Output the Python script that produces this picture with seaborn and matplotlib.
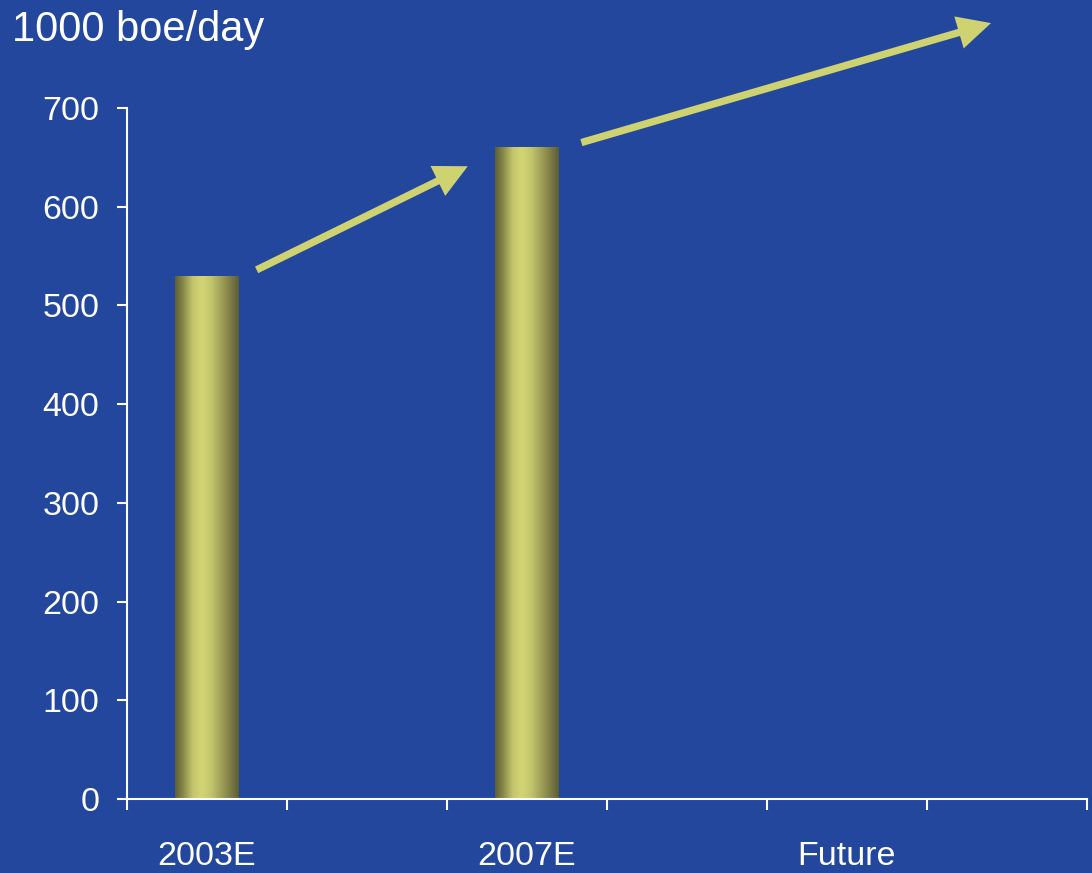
import matplotlib
matplotlib.use("Agg")
import matplotlib.pyplot as plt
from matplotlib.colors import LinearSegmentedColormap
import numpy as np
import pandas as pd
import seaborn as sns

# chart data
slots = ["2003E", " ", "2007E", "  ", "Future", "   "]
periods = ["2003E", "2007E"]
production = [530, 660]
unit_label = "1000 boe/day"
y_ticks = [0, 100, 200, 300, 400, 500, 600, 700]
# growth arrows (tail, head) in data units
arrow_paths = [((0.31, 536), (1.63, 641)),
               ((2.34, 665), (4.90, 786))]

BG = "#22479c"
ARROW = "#cfd270"

sns.set_theme(style="white")
plt.rcParams["font.family"] = ["Liberation Sans", "DejaVu Sans"]

df = pd.DataFrame({"period": periods, "value": production})

fig = plt.figure(figsize=(10.92, 8.73), dpi=100, facecolor=BG)
ax = fig.add_axes([127 / 1092, 1 - 799 / 873, 960 / 1092, 691 / 873])
ax.set_facecolor(BG)

sns.barplot(data=df, x="period", y="value", order=slots, width=0.4,
            color="#b0b25e", saturation=1, ax=ax)

# cylinder-like shading on each bar
shade = LinearSegmentedColormap.from_list("shade", [
    (0.0, "#5e5e36"), (0.12, "#858548"), (0.28, "#c4c66c"),
    (0.42, "#d3d574"), (0.56, "#c4c66c"), (0.78, "#939350"),
    (1.0, "#5c5c35")])
grad = np.linspace(0, 1, 256).reshape(1, -1)
for p in ax.patches:
    x0, y0 = p.get_x(), p.get_y()
    w, h = p.get_width(), p.get_height()
    if not np.isfinite(h) or h == 0:
        continue
    p.set_edgecolor("none")
    im = ax.imshow(grad, cmap=shade, aspect="auto", zorder=p.get_zorder() + 0.1,
                   extent=(x0, x0 + w, y0, y0 + h))
    im.set_clip_path(p)

ax.set_xlim(-0.5, len(slots) - 0.5)
ax.set_ylim(0, 700)
ax.set_yticks(y_ticks)
ax.set_xlabel("")
ax.set_ylabel("")

for side in ["top", "right"]:
    ax.spines[side].set_visible(False)
for side in ["left", "bottom"]:
    ax.spines[side].set_color("white")
    ax.spines[side].set_linewidth(1.5)

ax.set_xticks(np.arange(-0.5, len(slots)), minor=True)
ax.tick_params(axis="x", which="major", length=0, pad=30,
               labelsize=24.5, labelcolor="white")
ax.tick_params(axis="x", which="minor", length=8, width=1.5,
               color="white", direction="out", bottom=True)
ax.tick_params(axis="y", length=7, width=1.5, color="white", direction="out",
               pad=13, labelsize=24.5, labelcolor="white", left=True)

for (tail, head) in arrow_paths:
    ax.annotate("", xy=head, xytext=tail, xycoords="data",
                annotation_clip=False,
                arrowprops=dict(arrowstyle="simple,head_length=1.0,head_width=1.0,tail_width=0.22",
                                mutation_scale=24, lw=0, color=ARROW,
                                shrinkA=0, shrinkB=0))

fig.text(12 / 1092, 1 - 10 / 873, unit_label, color="white", fontsize=30,
         ha="left", va="top")

fig.savefig("out.png", dpi=100, facecolor=BG)
